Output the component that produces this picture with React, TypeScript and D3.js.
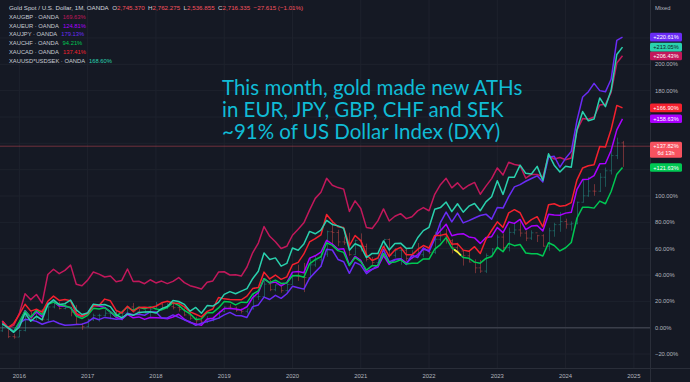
import React from "react";
import * as d3 from "d3";

// ---------- DATA ----------
// Monthly bars, Oct 2015 .. Nov 2024 (110 months)
const START_MONTH = new Date(2015, 9, 1);
const END_MONTH = new Date(2024, 11, 1);
const YEAR_LABELS = ["2016", "2017", "2018", "2019", "2020", "2021", "2022", "2023", "2024", "2025"];
const Y_TICKS = [-20, 0, 20, 40, 60, 80, 100, 120, 140, 160, 180, 200, 220];

// Gold spot (USD) monthly OHLC
const GOLD_BASE = 1142.2;
const GOLD_OPEN = [
  1115, 1142.2, 1065, 1061, 1118, 1238, 1233, 1293, 1215, 1322,
  1351, 1309, 1316, 1277, 1173, 1151, 1211, 1249, 1249, 1268,
  1269, 1242, 1269, 1322, 1280, 1271, 1275, 1303, 1345, 1318,
  1325, 1316, 1299, 1253, 1224, 1202, 1192, 1215, 1222, 1282,
  1321, 1313, 1292, 1284, 1305, 1409, 1413, 1520, 1472, 1513,
  1464, 1517, 1589, 1585, 1577, 1687, 1730, 1781, 1975, 1968,
  1886, 1879, 1776, 1898, 1847, 1734, 1708, 1769, 1907, 1770,
  1814, 1814, 1743, 1783, 1775, 1829, 1796, 1909, 1937, 1897,
  1837, 1807, 1766, 1711, 1661, 1633, 1768, 1824, 1928, 1837,
  1969, 1990, 1963, 1919, 1965, 1940, 1849, 1983, 2036, 2063,
  2040, 2044, 2230, 2286, 2327, 2326, 2447, 2503, 2635, 2745.37,
];
const GOLD_HIGH = [
  1191, 1143, 1088, 1123, 1263, 1283, 1304, 1303, 1362, 1375,
  1367, 1352, 1323, 1338, 1180, 1220, 1264, 1263, 1295, 1271,
  1296, 1271, 1331, 1357, 1306, 1299, 1310, 1366, 1361, 1356,
  1366, 1326, 1309, 1266, 1237, 1214, 1243, 1237, 1284, 1326,
  1346, 1325, 1310, 1305, 1439, 1453, 1555, 1557, 1517, 1516,
  1523, 1611, 1689, 1704, 1748, 1765, 1789, 1984, 2075, 1992,
  1933, 1966, 1906, 1960, 1871, 1755, 1798, 1913, 1916, 1832,
  1834, 1834, 1814, 1877, 1831, 1853, 1974, 2070, 1998, 1910,
  1879, 1814, 1808, 1735, 1730, 1786, 1833, 1949, 1959, 2010,
  2049, 2079, 1984, 1987, 1948, 1953, 2009, 2052, 2146, 2088,
  2065, 2236, 2431, 2450, 2387, 2483, 2531, 2685, 2790, 2762.275,
];
const GOLD_LOW = [
  1106, 1052, 1046, 1061, 1110, 1208, 1207, 1200, 1199, 1310,
  1300, 1302, 1241, 1171, 1123, 1146, 1200, 1195, 1240, 1214,
  1236, 1205, 1264, 1272, 1260, 1264, 1236, 1302, 1307, 1303,
  1301, 1282, 1245, 1211, 1160, 1180, 1182, 1196, 1221, 1276,
  1303, 1280, 1266, 1266, 1301, 1382, 1400, 1459, 1458, 1445,
  1454, 1518, 1548, 1451, 1568, 1670, 1671, 1757, 1863, 1849,
  1860, 1765, 1775, 1803, 1717, 1677, 1705, 1766, 1750, 1750,
  1688, 1721, 1741, 1759, 1753, 1780, 1782, 1890, 1872, 1787,
  1805, 1681, 1709, 1615, 1617, 1616, 1765, 1824, 1805, 1804,
  1950, 1932, 1893, 1903, 1885, 1846, 1810, 1931, 1974, 2001,
  1984, 2039, 2228, 2277, 2286, 2319, 2364, 2471, 2604, 2536.855,
];
const GOLD_CLOSE = [
  1142.2, 1065, 1061, 1118, 1238, 1233, 1293, 1215, 1322, 1351,
  1309, 1316, 1277, 1173, 1151, 1211, 1249, 1249, 1268, 1269,
  1242, 1269, 1322, 1280, 1271, 1275, 1303, 1345, 1318, 1325,
  1316, 1299, 1253, 1224, 1202, 1192, 1215, 1222, 1282, 1321,
  1313, 1292, 1284, 1305, 1409, 1413, 1520, 1472, 1513, 1464,
  1517, 1589, 1585, 1577, 1687, 1730, 1781, 1975, 1968, 1886,
  1879, 1776, 1898, 1847, 1734, 1708, 1769, 1907, 1770, 1814,
  1814, 1743, 1783, 1775, 1829, 1796, 1909, 1937, 1897, 1837,
  1807, 1766, 1711, 1661, 1633, 1768, 1824, 1928, 1837, 1969,
  1990, 1963, 1919, 1965, 1940, 1849, 1983, 2036, 2063, 2040,
  2044, 2230, 2286, 2327, 2326, 2447, 2503, 2635, 2744, 2716.335,
];

// Compared symbols, % change
const XAUGBP = [
  4.7, 0, 1.8, 10.9, 25.8, 21.3, 25.2, 18.7, 40.4, 44.4,
  41.0, 43.5, 47.5, 33.0, 31.9, 36.1, 42.3, 40.7, 38.5, 39.2,
  34.9, 35.9, 44.6, 35.1, 35.3, 33.4, 36.4, 34.0, 35.4, 33.5,
  35.2, 38.1, 34.2, 31.9, 30.7, 29.4, 34.5, 35.5, 42.2, 42.5,
  40.0, 40.2, 39.2, 46.1, 56.9, 64.3, 76.8, 69.4, 65.3, 60.1,
  61.8, 70.2, 74.8, 79.6, 89.3, 98.2, 102.9, 113.4, 108.2, 106.4,
  105.2, 88.3, 96.3, 90.5, 76.0, 75.3, 81.1, 90.2, 81.0, 84.6,
  86.6, 82.8, 84.2, 88.7, 91.2, 88.8, 101.3, 108.6, 113.4, 106.2,
  110.0, 105.2, 108.2, 110.3, 101.3, 107.5, 113.2, 121.3, 115.9, 125.6,
  123.9, 123.1, 113.5, 116.4, 116.4, 114.3, 130.8, 128.1, 129.2, 127.5,
  128.8, 149.9, 158.8, 158.3, 160.0, 169.1, 169.6, 178.7, 201.0, 206.43,
];
const XAUEUR = [
  3.0, 0, -3.1, 2.4, 13.0, 7.5, 12.0, 8.3, 18.2, 20.0,
  16.4, 16.2, 15.4, 9.9, 8.5, 11.2, 17.1, 16.4, 15.4, 12.0,
  7.9, 6.3, 10.1, 7.5, 8.2, 6.3, 7.7, 7.5, 7.3, 6.7,
  8.1, 10.2, 6.4, 3.9, 2.8, 1.9, 6.6, 7.1, 10.9, 14.5,
  14.6, 14.2, 13.5, 15.9, 22.9, 26.6, 37.3, 34.0, 34.6, 31.8,
  34.3, 42.2, 42.6, 41.8, 52.8, 54.6, 57.3, 66.3, 63.5, 59.6,
  60.0, 47.7, 54.1, 51.1, 42.5, 44.4, 46.0, 54.7, 48.0, 51.6,
  52.4, 49.3, 53.0, 55.3, 59.6, 58.6, 68.8, 73.6, 78.6, 69.8,
  71.0, 71.4, 68.9, 68.2, 64.0, 68.5, 69.1, 76.1, 72.2, 80.2,
  79.2, 82.2, 74.5, 77.2, 77.6, 73.5, 86.1, 85.5, 85.4, 87.0,
  87.6, 105.1, 112.5, 112.8, 115.5, 124.4, 124.7, 134.6, 150.2, 158.63,
];
const XAUJPY = [
  5.1, 0, -2.7, 3.3, 6.4, 5.9, 4.8, 2.6, 4.1, 5.2,
  3.2, 1.8, 2.1, 2.4, 2.7, 4.2, 7.5, 6.1, 7.8, 7.2,
  6.5, 6.8, 10.9, 9.8, 10.2, 9.4, 12.0, 12.0, 7.3, 7.4,
  9.7, 7.8, 5.9, 4.5, 1.8, 3.4, 4.6, 5.8, 7.3, 9.7,
  11.6, 9.3, 9.1, 7.8, 16.0, 17.3, 23.2, 21.4, 24.6, 22.3,
  25.8, 31.4, 30.4, 29.3, 37.6, 42.2, 46.6, 59.5, 59.0, 51.8,
  50.1, 41.3, 49.6, 47.5, 41.0, 44.2, 47.5, 59.4, 50.0, 51.8,
  52.2, 48.0, 55.0, 53.3, 60.6, 57.7, 67.5, 79.8, 87.8, 80.3,
  87.0, 79.6, 81.3, 83.3, 85.2, 86.2, 82.4, 91.3, 90.8, 99.5,
  106.9, 108.6, 111.2, 113.3, 115.3, 110.7, 129.5, 130.2, 121.9, 128.6,
  133.9, 157.4, 175.2, 179.2, 185.5, 180.0, 179.1, 188.6, 218.2, 220.61,
];
const XAUCHF = [
  3.0, 0, -3.1, 4.4, 12.7, 8.2, 13.3, 10.0, 17.7, 19.5,
  17.4, 16.6, 15.2, 8.9, 7.0, 9.4, 14.7, 14.2, 15.1, 12.1,
  8.6, 11.9, 15.7, 13.1, 15.6, 14.4, 15.8, 14.3, 13.5, 15.3,
  19.0, 16.9, 13.2, 10.6, 6.3, 6.7, 11.6, 11.4, 15.0, 19.8,
  19.6, 17.3, 19.4, 19.1, 25.5, 28.0, 37.2, 34.1, 36.1, 33.6,
  34.0, 39.5, 39.6, 38.3, 48.5, 51.7, 53.9, 64.4, 62.5, 58.5,
  57.2, 47.1, 53.3, 50.2, 43.7, 47.1, 47.2, 56.4, 49.4, 49.8,
  51.6, 48.4, 48.9, 49.0, 52.2, 52.1, 59.7, 63.1, 68.4, 60.6,
  57.5, 53.3, 52.7, 49.8, 49.0, 52.6, 54.0, 61.0, 57.7, 64.0,
  62.3, 63.2, 56.7, 56.2, 56.1, 54.4, 64.5, 62.4, 58.3, 60.7,
  64.7, 83.3, 91.5, 91.5, 90.8, 96.1, 94.1, 103.4, 116.6, 121.63,
];
const XAUCAD = [
  5.0, 0, 3.2, 10.1, 17.8, 12.6, 14.1, 11.8, 20.1, 24.0,
  20.7, 21.4, 20.4, 10.8, 8.7, 10.8, 16.6, 16.8, 21.7, 20.4,
  13.2, 11.2, 16.2, 12.3, 15.3, 15.6, 15.2, 16.3, 18.9, 20.1,
  18.8, 18.5, 15.8, 12.0, 10.2, 8.2, 12.4, 14.2, 22.9, 21.9,
  21.5, 21.3, 21.2, 24.0, 29.7, 30.6, 42.2, 37.0, 40.0, 36.7,
  38.6, 47.8, 49.6, 56.0, 65.1, 67.6, 70.5, 85.9, 80.6, 76.6,
  76.0, 62.2, 70.0, 66.1, 55.3, 51.0, 52.9, 61.8, 54.2, 59.0,
  61.0, 55.3, 55.3, 59.4, 62.4, 60.5, 70.1, 70.1, 71.2, 63.4,
  63.8, 58.9, 58.0, 61.5, 56.4, 67.1, 73.8, 80.4, 76.2, 87.2,
  89.6, 87.3, 78.6, 82.1, 84.3, 76.6, 93.4, 94.1, 92.2, 92.8,
  95.0, 112.3, 121.3, 123.0, 123.7, 137.6, 137.2, 150.5, 168.8, 166.90,
];
const XAUSEK = [
  3.0, 0, -3.5, 0.5, 11.2, 4.9, 8.7, 6.0, 17.5, 21.2,
  17.6, 18.2, 21.0, 13.5, 10.0, 11.2, 17.9, 17.3, 17.6, 16.0,
  10.0, 7.4, 10.4, 9.4, 11.6, 12.0, 12.1, 11.1, 14.5, 16.1,
  20.7, 19.9, 17.7, 12.5, 15.4, 11.0, 16.8, 16.4, 19.2, 25.3,
  27.4, 25.8, 27.8, 29.7, 37.2, 42.9, 56.8, 51.8, 53.0, 46.7,
  48.8, 60.5, 58.8, 63.6, 73.1, 71.3, 74.1, 81.5, 78.4, 77.3,
  75.4, 58.9, 63.7, 61.8, 53.2, 56.4, 56.3, 65.9, 59.0, 63.9,
  64.2, 60.2, 60.5, 68.3, 73.7, 76.2, 89.9, 91.2, 95.4, 88.1,
  94.1, 87.7, 92.3, 94.3, 88.8, 95.5, 99.4, 111.6, 101.2, 114.2,
  114.2, 123.4, 117.2, 116.7, 122.5, 111.8, 132.0, 123.4, 118.2, 122.6,
  121.9, 150.3, 164.1, 157.1, 158.4, 174.4, 167.8, 180.3, 207.5, 213.05,
];

const SERIES_NAMES = ["XAUGBP", "XAUEUR", "XAUJPY", "XAUCHF", "XAUCAD", "XAUUSD*USDSEK"];
const SERIES_VALUES = [XAUGBP, XAUEUR, XAUJPY, XAUCHF, XAUCAD, XAUSEK];
const SERIES_COLORS = ["#c2185b", "#aa00ff", "#6a2cf5", "#00c853", "#f4212e", "#2ad1ae"];
const BADGE_TEXT_COLORS = ["#ffffff", "#ffffff", "#ffffff", "#ffffff", "#ffffff", "#131722"];
const LEGEND_VALUES = ["169.63%", "124.81%", "179.13%", "94.21%", "137.41%", "168.60%"];

const TITLE_MAIN = "Gold Spot / U.S. Dollar, 1M, OANDA";
const TITLE_OHLC = [["O", "2,745.370"], ["H", "2,762.275"], ["L", "2,536.855"], ["C", "2,716.335"]];
const TITLE_CHANGE = "\u221227.615 (\u22121.01%)";
const COUNTDOWN = "6d 13h";
const ANNOTATION = [
  "This month, gold made new ATHs",
  "in EUR, JPY, GBP, CHF and SEK",
  "~91% of US Dollar Index (DXY)",
];
const HIGHLIGHT_SERIES = 3;
const HIGHLIGHT_RANGE = [79.4, 80, 80.6];

// ---------- STYLE ----------
const BG = "#151924";
const GRID = "#1e222d";
const TEXT = "#b2b5be";
const UP = "#26a69a";
const DOWN = "#ef5350";
const FONT = "'Liberation Sans', Arial, sans-serif";

export default function App() {
  const W = 690;
  const H = 382;
  const plotRight = 650;
  const plotBottom = 368;
  const months = d3.timeMonth.range(START_MONTH, END_MONTH);
  const n = months.length;

  const x = d3.scaleLinear().domain([0, n - 1]).range([2.3, 622.5]);
  const y = d3.scaleLinear().domain([0, 100]).range([327.7, 196.0]);
  const pct = (p: number) => (p / GOLD_BASE - 1) * 100;

  const line = d3
    .line<number>()
    .x((_, i) => x(i))
    .y((v) => y(v));

  const yearX = YEAR_LABELS.map((yl) => x(d3.timeMonth.count(START_MONTH, new Date(+yl, 0, 1))));

  const hlVals = SERIES_VALUES[HIGHLIGHT_SERIES];
  const hlPts = HIGHLIGHT_RANGE.map((t) => {
    const a = Math.floor(t);
    const b = Math.min(a + 1, n - 1);
    const v = hlVals[a] + (hlVals[b] - hlVals[a]) * (t - a);
    return [x(t), y(v)] as [number, number];
  });

  const goldLast = pct(GOLD_CLOSE[n - 1]);
  const goldDown = GOLD_CLOSE[n - 1] < GOLD_OPEN[n - 1];
  const mainBadgeColor = goldDown ? "#f7525f" : "#22ab94";
  const fmt = (v: number) => (v >= 0 ? "+" : "\u2212") + Math.abs(v).toFixed(2) + "%";
  const tickFmt = (v: number) => (v < 0 ? "\u2212" : "") + Math.abs(v).toFixed(2) + "%";

  const badgeW = 32;
  const badgeH = 8.6;
  const badgeX = 650;

  // badge vertical extents (to hide axis labels covered by badges, like the reference)
  const badgeSpans: [number, number][] = SERIES_VALUES.map((vals) => {
    const cy = y(vals[vals.length - 1]);
    return [cy - badgeH / 2, cy + badgeH / 2];
  });
  badgeSpans.push([y(goldLast) - 4.5, y(goldLast) + 11.5]);
  const visibleTicks = Y_TICKS.filter((t) => {
    const ty = y(t);
    return !badgeSpans.some(([a, b]) => ty + 3 > a && ty - 3 < b);
  });

  return (
    <svg
      width={W}
      height={H}
      style={{ position: "fixed", left: 0, top: 0, display: "block", background: BG }}
      fontFamily={FONT}
    >
      <rect x={0} y={0} width={W} height={H} fill={BG} />
      <defs>
        <clipPath id="plot">
          <rect x={0} y={0} width={plotRight} height={plotBottom} />
        </clipPath>
      </defs>

      {/* grid */}
      {Y_TICKS.map((t) => (
        <line key={"hg" + t} x1={0} x2={plotRight} y1={y(t)} y2={y(t)} stroke={GRID} strokeWidth={1} />
      ))}
      {yearX.map((xx, i) => (
        <line key={"vg" + i} x1={xx} x2={xx} y1={0} y2={plotBottom} stroke={GRID} strokeWidth={1} />
      ))}
      {/* zero baseline */}
      <line x1={0} x2={plotRight} y1={y(0)} y2={y(0)} stroke="#3a3e4a" strokeWidth={1.6} />

      <g clipPath="url(#plot)">
        {/* gold OHLC bars */}
        {months.map((_, i) => {
          const up = GOLD_CLOSE[i] >= GOLD_OPEN[i];
          const c = up ? UP : DOWN;
          const xx = Math.round(x(i)) + 0.5;
          return (
            <g key={"bar" + i} stroke={c} strokeOpacity={0.42} strokeWidth={1}>
              <line x1={xx} x2={xx} y1={y(pct(GOLD_HIGH[i]))} y2={y(pct(GOLD_LOW[i]))} />
              <line x1={xx - 2} x2={xx} y1={y(pct(GOLD_OPEN[i]))} y2={y(pct(GOLD_OPEN[i]))} />
              <line x1={xx} x2={xx + 2} y1={y(pct(GOLD_CLOSE[i]))} y2={y(pct(GOLD_CLOSE[i]))} />
            </g>
          );
        })}

        {/* price line */}
        <line x1={0} x2={plotRight} y1={y(goldLast)} y2={y(goldLast)} stroke={mainBadgeColor} strokeOpacity={0.4} strokeWidth={1} />

        {/* compared lines */}
        {SERIES_VALUES.map((vals, k) => (
          <path
            key={"s" + k}
            d={line(vals) || ""}
            fill="none"
            stroke={SERIES_COLORS[k]}
            strokeWidth={1.5}
            strokeLinejoin="round"
          />
        ))}
        <path d={d3.line()(hlPts) || ""} fill="none" stroke="#ffeb3b" strokeWidth={1.7} />
      </g>

      {/* annotation */}
      <g fill="#10bcd6" fontSize={20.5} fontFamily="Lato, 'Liberation Sans', sans-serif">
        {ANNOTATION.map((t, i) => (
          <text key={"an" + i} x={222} y={95 + i * 21.8}>
            {t}
          </text>
        ))}
      </g>

      {/* header / legend */}
      <text x={9} y={10.3} fontSize={6.2} fill="#d1d4dc">
        <tspan>{TITLE_MAIN}</tspan>
        {TITLE_OHLC.map(([k, v], i) => (
          <React.Fragment key={"oh" + i}>
            <tspan dx={3.5} fill="#d1d4dc">{k}</tspan>
            <tspan fill={mainBadgeColor}>{v}</tspan>
          </React.Fragment>
        ))}
        <tspan dx={3.5} fill={mainBadgeColor}>{TITLE_CHANGE}</tspan>
      </text>
      {SERIES_NAMES.map((nm, k) => (
        <text key={"lg" + k} x={9} y={19 + k * 8.7} fontSize={5.8} fill="#c7cad3">
          <tspan>{nm + " \u00b7 OANDA"}</tspan>
          <tspan dx={4} fill={SERIES_COLORS[k]}>{LEGEND_VALUES[k]}</tspan>
        </text>
      ))}

      {/* axes frame */}
      <line x1={plotRight + 0.5} x2={plotRight + 0.5} y1={0} y2={H} stroke="#2a2e39" strokeWidth={1} />
      <line x1={0} x2={W} y1={plotBottom + 0.5} y2={plotBottom + 0.5} stroke="#2a2e39" strokeWidth={1} />

      {/* right axis ticks */}
      {visibleTicks.map((t) => (
        <text key={"yt" + t} x={655} y={y(t) + 2} fontSize={5.8} fill={TEXT}>
          {tickFmt(t)}
        </text>
      ))}
      <text x={655} y={10} fontSize={5.8} fill={TEXT}>
        Mixed
      </text>

      {/* bottom axis */}
      {YEAR_LABELS.map((yl, i) => (
        <text key={"xl" + i} x={yearX[i]} y={377.5} fontSize={5.9} fill={TEXT} textAnchor="middle">
          {yl}
        </text>
      ))}

      {/* badges */}
      {SERIES_VALUES.map((vals, k) => {
        const v = vals[vals.length - 1];
        const cy = y(v);
        return (
          <g key={"bd" + k}>
            <rect x={badgeX} y={cy - badgeH / 2} width={badgeW} height={badgeH} rx={1.5} fill={SERIES_COLORS[k]} />
            <text x={badgeX + badgeW / 2} y={cy + 2} fontSize={5.6} fill={BADGE_TEXT_COLORS[k]} textAnchor="middle">
              {fmt(v)}
            </text>
          </g>
        );
      })}
      <g>
        <rect x={badgeX} y={y(goldLast) - 4.5} width={badgeW} height={16} rx={1.5} fill={mainBadgeColor} />
        <text x={badgeX + badgeW / 2} y={y(goldLast) + 2} fontSize={5.6} fill="#ffffff" textAnchor="middle">
          {fmt(goldLast)}
        </text>
        <text x={badgeX + badgeW / 2} y={y(goldLast) + 9.3} fontSize={5.6} fill="#ffffff" textAnchor="middle">
          {COUNTDOWN}
        </text>
      </g>
    </svg>
  );
}
